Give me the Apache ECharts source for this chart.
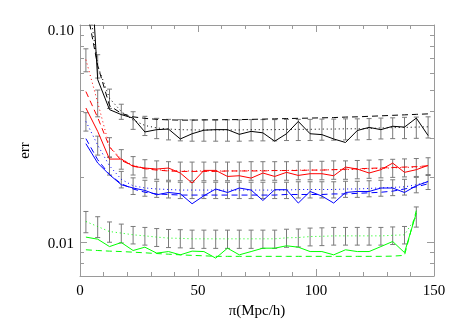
<!DOCTYPE html>
<html>
<head>
<meta charset="utf-8">
<script src="https://cdn.jsdelivr.net/npm/echarts@6.0.0/dist/echarts.min.js"></script>
<style>
  html, body { margin: 0; padding: 0; background: #fff; }
  #main { width: 458px; height: 327px; }
</style>
</head>
<body>
<div id="main"></div>
<script>
// bin centres along the line of sight
var pi = [2.5, 7.5, 12.5, 17.5, 22.5, 27.5, 32.5, 37.5, 42.5, 47.5, 52.5, 57.5, 62.5, 67.5, 72.5,
          77.5, 82.5, 87.5, 92.5, 97.5, 102.5, 107.5, 112.5, 117.5, 122.5, 127.5, 132.5, 137.5, 142.5, 147.5];

// black
var blackSolid = [0.45, 0.0561, 0.0408, 0.0387, 0.0373, 0.0322, 0.0330, 0.0332, 0.0299, 0.0316, 0.0328, 0.0330, 0.0330, 0.0314, 0.0324,
                  0.0319, 0.0292, 0.0316, 0.0360, 0.0316, 0.0313, 0.0299, 0.0288, 0.0327, 0.0338, 0.0330, 0.0342, 0.0339, 0.0373, 0.0310];
var blackDotted = [0.16, 0.065, 0.046, 0.040, 0.0365, 0.0345, 0.0336, 0.0332, 0.0330, 0.0329, 0.0329, 0.0329, 0.0329, 0.0329, 0.0330,
                   0.0330, 0.0330, 0.0331, 0.0331, 0.0331, 0.0332, 0.0332, 0.0333, 0.0333, 0.0334, 0.0336, 0.0337, 0.0338, 0.0339, 0.0340];
var blackDashed = [0.125, 0.065, 0.0426, 0.0392, 0.0378, 0.0372, 0.0368, 0.0366, 0.0365, 0.0365, 0.0366, 0.0366, 0.0367, 0.0367, 0.0368,
                   0.0369, 0.0370, 0.0371, 0.0372, 0.0373, 0.0374, 0.0375, 0.0377, 0.0378, 0.0380, 0.0382, 0.0384, 0.0386, 0.0388, 0.0390];
var blackErr = [0.018, 0.008, 0.0047, 0.0032, 0.0034, 0.0035, 0.0036, 0.0036, 0.0037, 0.0037, 0.0037, 0.0037, 0.0037, 0.0037, 0.0037,
                0.0037, 0.0037, 0.0037, 0.0037, 0.0037, 0.0037, 0.0037, 0.0037, 0.0037, 0.0037, 0.0037, 0.0037, 0.0038, 0.0038, 0.0038];

// red
var redSolid = [0.0415, 0.0324, 0.02416, 0.02416, 0.02236, 0.02197, 0.02174, 0.02197, 0.02084, 0.01874, 0.02143, 0.02143, 0.0201, 0.02025, 0.01975,
                0.02084, 0.0201, 0.02099, 0.02032, 0.02069, 0.02069, 0.02025, 0.0222, 0.02174, 0.02084, 0.02159, 0.02316, 0.02099, 0.02159, 0.0226];
var redDotted = [0.0693, 0.044, 0.0275, 0.0242, 0.0226, 0.0219, 0.0216, 0.0214, 0.0213, 0.0213, 0.0213, 0.0213, 0.0213, 0.0213, 0.0214,
                 0.0214, 0.0214, 0.0214, 0.0215, 0.0215, 0.0215, 0.0216, 0.0216, 0.0217, 0.0218, 0.0219, 0.0220, 0.0221, 0.0222, 0.0224];
var redDashed = [0.0494, 0.0375, 0.0275, 0.0238, 0.0225, 0.0218, 0.0215, 0.0213, 0.0212, 0.0212, 0.0212, 0.0212, 0.0213, 0.0213, 0.0213,
                 0.0213, 0.0214, 0.0214, 0.0214, 0.0215, 0.0215, 0.0216, 0.0217, 0.0218, 0.0219, 0.0220, 0.0221, 0.0222, 0.0223, 0.0225];
var redErr = [0.0084, 0.0062, 0.0028, 0.0025, 0.0022, 0.0021, 0.0021, 0.0021, 0.0021, 0.0021, 0.0021, 0.0021, 0.0021, 0.0021, 0.0021,
              0.0021, 0.0021, 0.0021, 0.0021, 0.0021, 0.0021, 0.0021, 0.0021, 0.0021, 0.0021, 0.0021, 0.0021, 0.0021, 0.0021, 0.0021];

// blue
var blueSolid = [0.02844, 0.02317, 0.02047, 0.01841, 0.01778, 0.01733, 0.01655, 0.01696, 0.01673, 0.01505, 0.01638, 0.01759, 0.01696, 0.01778, 0.0174,
                 0.01558, 0.01746, 0.01746, 0.01516, 0.01714, 0.01633, 0.01516, 0.01696, 0.01714, 0.01714, 0.01778, 0.01778, 0.01696, 0.01821, 0.01906];
var blueDotted = [0.0360, 0.0280, 0.0225, 0.0195, 0.0182, 0.0178, 0.0176, 0.0175, 0.0174, 0.0174, 0.0174, 0.0174, 0.0174, 0.0174, 0.0174,
                  0.0174, 0.0174, 0.0174, 0.0175, 0.0175, 0.0175, 0.0175, 0.0176, 0.0176, 0.0177, 0.0178, 0.0179, 0.0180, 0.0184, 0.0190];
var blueDashed = [0.0300, 0.0240, 0.0205, 0.0186, 0.0176, 0.0170, 0.0167, 0.0166, 0.0165, 0.0165, 0.0165, 0.0165, 0.0165, 0.0165, 0.0165,
                  0.0165, 0.0165, 0.0166, 0.0166, 0.0166, 0.0166, 0.0167, 0.0167, 0.0168, 0.0169, 0.0170, 0.0172, 0.0176, 0.0180, 0.0186];
var blueErr = [0.0035, 0.0028, 0.0021, 0.0017, 0.0016, 0.0015, 0.0015, 0.0015, 0.0015, 0.0015, 0.0015, 0.0015, 0.0015, 0.0015, 0.0015,
               0.0015, 0.0015, 0.0015, 0.0015, 0.0015, 0.0015, 0.0015, 0.0015, 0.0015, 0.0015, 0.0015, 0.0015, 0.0015, 0.0015, 0.0015];

// green (stops one bin earlier)
var greenSolid = [0.01057, 0.01034, 0.00956, 0.00998, 0.00917, 0.0095, 0.00892, 0.00907, 0.00876, 0.00911, 0.00907, 0.00846, 0.0094, 0.00876, 0.00907,
                  0.0094, 0.0094, 0.00964, 0.0095, 0.00907, 0.00907, 0.00876, 0.00924, 0.00907, 0.00907, 0.00956, 0.01009, 0.00897, 0.01363];
var greenDotted = [0.01247, 0.01182, 0.01121, 0.01103, 0.01083, 0.01071, 0.01057, 0.01046, 0.01043, 0.01038, 0.01038, 0.01038, 0.01038, 0.01038, 0.01038,
                   0.01038, 0.01038, 0.01049, 0.01052, 0.01063, 0.01066, 0.01071, 0.01071, 0.01071, 0.01071, 0.01071, 0.01077, 0.01083, 0.01315];
var greenDashed = [0.00924, 0.00917, 0.00911, 0.00907, 0.00901, 0.00895, 0.00888, 0.00882, 0.00876, 0.00871, 0.00867, 0.00862, 0.00862, 0.00862, 0.00862,
                   0.00862, 0.00862, 0.00862, 0.00862, 0.00862, 0.00862, 0.00862, 0.00862, 0.00862, 0.00862, 0.00862, 0.00864, 0.00871, 0.0140];
var greenErr = [0.0014, 0.0013, 0.0012, 0.0011, 0.0010, 0.0010, 0.0010, 0.0010, 0.0010, 0.0010, 0.0010, 0.0010, 0.0010, 0.0010, 0.0010,
                0.0010, 0.0010, 0.0010, 0.0010, 0.0010, 0.0010, 0.0010, 0.0010, 0.0010, 0.0010, 0.0010, 0.0010, 0.0010, 0.0014];

// axis ticks
var yMajor = [0.01, 0.1];
var yMinor = [0.008, 0.009, 0.02, 0.03, 0.04, 0.05, 0.06, 0.07, 0.08, 0.09];

var frame = '#9a9a9a';
var barColor = '#7a7a7a';
var font = 'Liberation Serif';

function pairs(ys) {
    return ys.map(function (y, i) { return [pi[i], y]; });
}

function bars(center, err) {
    return center.map(function (c, i) { return [pi[i], c - err[i], c + err[i]]; });
}

function lineSeries(ys, color, type) {
    var dash = type === 'dotted' ? [1, 3] : (type === 'dashed' ? [6, 4] : 'solid');
    return {
        type: 'line',
        data: pairs(ys),
        symbol: 'none',
        z: 3,
        lineStyle: { color: color, width: 1, type: dash }
    };
}

function barSeries(center, err) {
    return {
        type: 'custom',
        data: bars(center, err),
        clip: true,
        z: 2,
        encode: { x: 0, y: [1, 2] },
        renderItem: function (params, api) {
            var x = api.value(0);
            var lo = api.coord([x, api.value(1)]);
            var hi = api.coord([x, api.value(2)]);
            var w = 2.5;
            var st = { stroke: barColor, lineWidth: 1 };
            return {
                type: 'group',
                children: [
                    { type: 'line', shape: { x1: lo[0], y1: lo[1], x2: hi[0], y2: hi[1] }, style: st },
                    { type: 'line', shape: { x1: lo[0] - w, y1: lo[1], x2: lo[0] + w, y2: lo[1] }, style: st },
                    { type: 'line', shape: { x1: hi[0] - w, y1: hi[1], x2: hi[0] + w, y2: hi[1] }, style: st }
                ]
            };
        }
    };
}

function yAxis(pos, ticks, len, labels) {
    return {
        type: 'log',
        position: pos,
        min: 0.007,
        max: 0.1,
        axisLine: { show: labels, lineStyle: { color: frame } },
        splitLine: { show: false },
        axisTick: { inside: true, length: len, customValues: ticks, lineStyle: { color: frame } },
        axisLabel: {
            show: labels && pos === 'left',
            customValues: yMajor,
            margin: 6,
            color: '#000',
            fontFamily: font,
            fontSize: 15,
            formatter: function (v) { return v > 0.05 ? '{t|0.10}' : '{b|0.01}'; },
            rich: {
                t: { fontFamily: font, fontSize: 15, color: '#000', padding: [12, 0, 0, 0] },
                b: { fontFamily: font, fontSize: 15, color: '#000', padding: [3, 0, 0, 0] }
            }
        },
        name: pos === 'left' && labels ? 'err' : '',
        nameLocation: 'middle',
        nameGap: 47,
        nameRotate: 90,
        nameTextStyle: { color: '#000', fontFamily: font, fontSize: 15 }
    };
}

function xAxis(pos) {
    return {
        type: 'value',
        position: pos,
        min: 0,
        max: 150,
        interval: 50,
        axisLine: { lineStyle: { color: frame } },
        splitLine: { show: false },
        axisTick: { inside: true, length: 7, lineStyle: { color: frame } },
        minorTick: { show: true, splitNumber: 5, length: 4, lineStyle: { color: frame } },
        minorSplitLine: { show: false },
        axisLabel: { show: pos === 'bottom', margin: 8, color: '#000', fontFamily: font, fontSize: 15 },
        name: pos === 'bottom' ? 'π(Mpc/h)' : '',
        nameLocation: 'middle',
        nameGap: 24,
        nameTextStyle: { color: '#000', fontFamily: font, fontSize: 15 }
    };
}

var chart = echarts.init(document.getElementById('main'));

chart.setOption({
    animation: false,
    backgroundColor: '#fff',
    grid: { left: 80, right: 24, top: 25, bottom: 51 },
    xAxis: [xAxis('bottom'), xAxis('top')],
    yAxis: [
        yAxis('left', yMajor, 7, true),
        yAxis('left', yMinor, 4, false),
        yAxis('right', yMajor, 7, true),
        yAxis('right', yMinor, 4, false)
    ],
    series: [
        barSeries(blackDotted, blackErr),
        barSeries(redDotted, redErr),
        barSeries(blueDotted, blueErr),
        barSeries(greenDotted, greenErr),
        lineSeries(blackSolid, '#000', 'solid'),
        lineSeries(blackDotted, '#000', 'dotted'),
        lineSeries(blackDashed, '#000', 'dashed'),
        lineSeries(redSolid, '#ff0000', 'solid'),
        lineSeries(redDotted, '#ff0000', 'dotted'),
        lineSeries(redDashed, '#ff0000', 'dashed'),
        lineSeries(blueSolid, '#0000ff', 'solid'),
        lineSeries(blueDotted, '#0000ff', 'dotted'),
        lineSeries(blueDashed, '#0000ff', 'dashed'),
        lineSeries(greenSolid, '#00ff00', 'solid'),
        lineSeries(greenDotted, '#00ff00', 'dotted'),
        lineSeries(greenDashed, '#00ff00', 'dashed')
    ]
});
</script>
</body>
</html>
